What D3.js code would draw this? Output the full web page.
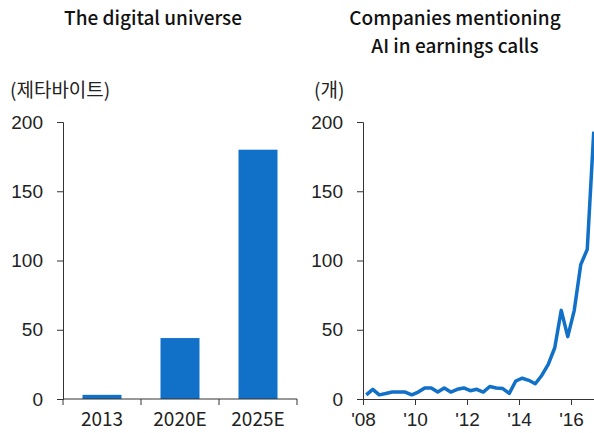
<!DOCTYPE html>
<html>
<head>
<meta charset="utf-8">
<script src="https://cdn.jsdelivr.net/npm/d3@7"></script>
<style>
  body { margin: 0; background: #fff; }
  svg { display: block; font-family: "Noto Sans CJK KR", "Noto Sans", sans-serif; }
</style>
</head>
<body>
<svg id="chart" width="594" height="433"></svg>
<script>
// Left panel: size of the digital universe (zettabytes)
const barCategories = ["2013", "2020E", "2025E"];
const barValues = [3, 44, 180];

// Right panel: companies mentioning AI in earnings calls, quarterly 2008Q1-2016Q4
const lineStartYear = 2008;
const lineValues = [
  3, 7, 3, 4, 5, 5, 5, 3,
  5, 8, 8, 5, 8, 5, 7, 8,
  6, 7, 5, 9, 8, 7.5, 4, 13,
  15, 13.5, 11, 17, 25, 37, 64, 45,
  64, 97, 108, 193
];
const lineTickYears = [2008, 2010, 2012, 2014, 2016];
const yTicks = [0, 50, 100, 150, 200];

const blue = "#1170c8";
const textColor = "#222";
const labelSize = "19px";
const titleSize = "19px";
const svg = d3.select("#chart");

const plotTop = 122, plotBottom = 399;

function styleAxis(g) {
  g.selectAll(".domain").attr("stroke", "#333").attr("stroke-width", 1);
  g.selectAll(".tick line").attr("stroke", "#333");
  g.selectAll(".tick text").attr("fill", textColor).style("font-size", labelSize);
}

// ---------- bar chart ----------
const bx0 = 63, bx1 = 297;
const xBand = d3.scaleBand().domain(barCategories).range([bx0, bx1]).paddingInner(0.5).paddingOuter(0.25);
const yBar = d3.scaleLinear().domain([0, 200]).range([plotBottom, plotTop]);

svg.append("g")
  .selectAll("rect")
  .data(barValues)
  .join("rect")
  .attr("x", (d, i) => xBand(barCategories[i]))
  .attr("width", xBand.bandwidth())
  .attr("y", d => yBar(d))
  .attr("height", d => yBar(0) - yBar(d))
  .attr("fill", blue);

const yAxisL = svg.append("g").attr("transform", `translate(${bx0},0)`)
  .call(d3.axisLeft(yBar).tickValues(yTicks).tickSize(6).tickPadding(14));
styleAxis(yAxisL);

// x axis with ticks between the bands
const bandEdges = d3.scaleLinear().domain([0, 3]).range([bx0, bx1]);
const xAxisL = svg.append("g").attr("transform", `translate(0,${plotBottom})`);
xAxisL.append("line").attr("x1", bx0).attr("x2", bx1).attr("stroke", "#333");
xAxisL.selectAll(".edge").data(d3.range(4)).join("line")
  .attr("class", "edge")
  .attr("x1", d => bandEdges(d)).attr("x2", d => bandEdges(d))
  .attr("y1", 0).attr("y2", 6).attr("stroke", "#333");
xAxisL.selectAll("text").data(barCategories).join("text")
  .attr("x", d => xBand(d) + xBand.bandwidth() / 2)
  .attr("y", 27)
  .attr("text-anchor", "middle")
  .attr("fill", textColor)
  .style("font-size", labelSize)
  .text(d => d);

svg.append("text").attr("x", 153).attr("y", 25).attr("text-anchor", "middle")
  .attr("fill", "#111").style("font-size", titleSize).style("font-weight", 500)
  .text("The digital universe");
svg.append("text").attr("x", 10).attr("y", 97)
  .attr("fill", textColor).style("font-size", labelSize).text("(제타바이트)");

// ---------- line chart ----------
const lx0 = 363, lx1 = 594;
const xTime = d3.scaleLinear().domain([2008, 2008 + 231 / 26]).range([lx0, lx1]);
const yLine = d3.scaleLinear().domain([0, 200]).range([plotBottom, plotTop]);

const points = lineValues.map((v, i) => ({ t: lineStartYear + (i + 0.5) / 4, v }));

svg.append("path")
  .datum(points)
  .attr("fill", "none")
  .attr("stroke", blue)
  .attr("stroke-width", 3.5)
  .attr("stroke-linejoin", "round")
  .attr("d", d3.line().x(d => xTime(d.t)).y(d => yLine(d.v)));

const yAxisR = svg.append("g").attr("transform", `translate(${lx0},0)`)
  .call(d3.axisLeft(yLine).tickValues(yTicks).tickSize(6).tickPadding(14));
styleAxis(yAxisR);

const xAxisR = svg.append("g").attr("transform", `translate(0,${plotBottom})`)
  .call(d3.axisBottom(xTime).tickValues(lineTickYears).tickSize(6).tickPadding(8)
    .tickFormat(d => "'" + String(d).slice(2)).tickSizeOuter(0));
styleAxis(xAxisR);

svg.append("text").attr("x", 455).attr("y", 25).attr("text-anchor", "middle")
  .attr("fill", "#111").style("font-size", titleSize).style("font-weight", 500)
  .text("Companies mentioning");
svg.append("text").attr("x", 455).attr("y", 53).attr("text-anchor", "middle")
  .attr("fill", "#111").style("font-size", titleSize).style("font-weight", 500)
  .text("AI in earnings calls");
svg.append("text").attr("x", 314).attr("y", 97)
  .attr("fill", textColor).style("font-size", labelSize).text("(개)");
</script>
</body>
</html>
